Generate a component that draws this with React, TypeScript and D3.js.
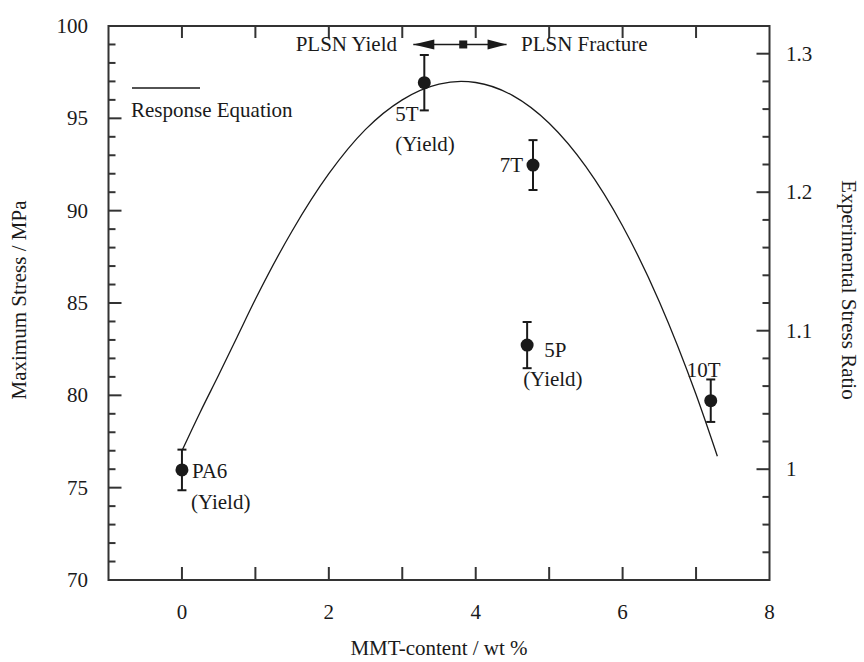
import React from "react";
import * as d3 from "d3";

const sampleNames = ["PA6", "5T", "7T", "5P", "10T"];
const mmtContent = [0, 3.3, 4.78, 4.7, 7.2];
const maxStress = [75.96, 96.93, 92.47, 82.72, 79.71];
const stressError = [1.1, 1.5, 1.35, 1.25, 1.15];

const curveX = [0, 0.25, 0.5, 0.75, 1.0, 1.5, 2.0, 2.5, 3.0, 3.5, 3.8, 4.0, 4.5, 5.0, 5.5, 6.0, 6.5, 7.0, 7.29];
const curveStress = [77.0, 79.1, 81.1, 83.15, 85.2, 88.9, 92.0, 94.4, 96.0, 96.85, 97.0, 96.94, 96.24, 94.73, 92.38, 89.17, 85.07, 80.04, 76.7];

const xTickLabels = [0, 2, 4, 6, 8];
const yTickLabels = [70, 75, 80, 85, 90, 95, 100];
const ratioTickLabels = [1, 1.1, 1.2, 1.3];

const plsnRange = [3.15, 3.83, 4.42];
const plsnLevel = 99.0;

const FONT = "'Liberation Serif', 'Times New Roman', serif";
const INK = "#1a1a1a";
const AX = "#333";

export default function App() {
  const W = 864, H = 662;
  const x = d3.scaleLinear().domain([-1, 8]).range([108.5, 769.5]);
  const y = d3.scaleLinear().domain([70, 100]).range([580, 26]);
  const y2 = d3.scaleLinear().domain([0.92, 1.32]).range([580, 26]);
  const [x0, x1] = x.range();
  const [yb, yt] = y.range();

  const line = d3.line<number>()
    .x((_, i) => x(curveX[i]))
    .y((d) => y(d))
    .curve(d3.curveMonotoneX);

  const xMinor = d3.range(0, 8, 1);
  const yMinor = d3.range(71, 100, 1);
  const rMinor = d3.range(0.94, 1.315, 0.02);

  const fs = 21;

  const labelOffsets: Record<string, { t: string; dx: number; dy: number; anchor: string }[]> = {
    PA6: [{ t: "PA6", dx: 10, dy: 8, anchor: "start" }, { t: "(Yield)", dx: 9, dy: 39, anchor: "start" }],
    "5T": [{ t: "5T", dx: -29, dy: 38, anchor: "start" }, { t: "(Yield)", dx: -29, dy: 68, anchor: "start" }],
    "7T": [{ t: "7T", dx: -10, dy: 7, anchor: "end" }],
    "5P": [{ t: "5P", dx: 17, dy: 12, anchor: "start" }, { t: "(Yield)", dx: -4, dy: 41, anchor: "start" }],
    "10T": [{ t: "10T", dx: -7, dy: -24, anchor: "middle" }],
  };

  const py = y(plsnLevel);
  const [pl, pm, pr] = plsnRange.map((v) => x(v));

  return (
    <svg width={W} height={H} style={{ position: "absolute", left: 0, top: 0, background: "#fff" }}
      fontFamily={FONT} fontSize={fs} fill={INK}>
      <rect x={0} y={0} width={W} height={H} fill="#fff" />
      {/* frame */}
      <rect x={x0} y={yt} width={x1 - x0} height={yb - yt} fill="none" stroke={AX} strokeWidth={2} />
      {/* x ticks bottom & top */}
      {xMinor.map((v) => (
        <g key={"xt" + v}>
          <line x1={x(v)} x2={x(v)} y1={yb} y2={yb - 13} stroke={AX} strokeWidth={2} />
          <line x1={x(v)} x2={x(v)} y1={yt} y2={yt + 12} stroke={AX} strokeWidth={2} />
        </g>
      ))}
      {xTickLabels.map((v) => (
        <text key={"xl" + v} x={x(v)} y={619} textAnchor="middle">{v}</text>
      ))}
      {/* left ticks */}
      {yMinor.map((v) => (
        <line key={"yt" + v} x1={x0} x2={x0 + (v % 5 === 0 ? 13 : 7)} y1={y(v)} y2={y(v)} stroke={AX} strokeWidth={2} />
      ))}
      {yTickLabels.map((v) => (
        <text key={"yl" + v} x={88} y={y(v) + 7} textAnchor="end">{v}</text>
      ))}
      {/* right ticks */}
      {rMinor.map((v) => {
        const major = Math.abs(v * 10 - Math.round(v * 10)) < 1e-6;
        return <line key={"rt" + v.toFixed(2)} x1={x1} x2={x1 - (major ? 13 : 7)} y1={y2(v)} y2={y2(v)} stroke={AX} strokeWidth={2} />;
      })}
      {ratioTickLabels.map((v) => (
        <text key={"rl" + v} x={786} y={y2(v) + 7} textAnchor="start">{v}</text>
      ))}
      {/* axis titles */}
      <text x={(x0 + x1) / 2} y={655} textAnchor="middle">MMT-content / wt %</text>
      <text transform={`translate(26,300) rotate(-90)`} textAnchor="middle">Maximum Stress / MPa</text>
      <text transform={`translate(842,290) rotate(90)`} textAnchor="middle">Experimental Stress Ratio</text>
      {/* response curve */}
      <path d={line(curveStress) || ""} fill="none" stroke={INK} strokeWidth={1.3} />
      {/* legend */}
      <line x1={132} x2={200} y1={88} y2={88} stroke={INK} strokeWidth={1.6} />
      <text x={131} y={117}>Response Equation</text>
      {/* PLSN arrow */}
      <line x1={pl} x2={pr} y1={py} y2={py} stroke={INK} strokeWidth={1.5} />
      <path d={`M${pl},${py} L${pl + 21},${py - 5} L${pl + 21},${py + 5} Z`} fill={INK} />
      <path d={`M${pr},${py} L${pr - 19},${py - 5} L${pr - 19},${py + 5} Z`} fill={INK} />
      <rect x={pm - 4} y={py - 4} width={8} height={8} fill={INK} />
      <text x={397} y={51} textAnchor="end">PLSN Yield</text>
      <text x={521} y={51}>PLSN Fracture</text>
      {/* data points */}
      {sampleNames.map((name, i) => {
        const cx = x(mmtContent[i]);
        const cy = y(maxStress[i]);
        const top = y(maxStress[i] + stressError[i]);
        const bot = y(maxStress[i] - stressError[i]);
        return (
          <g key={name}>
            <line x1={cx} x2={cx} y1={top} y2={bot} stroke={INK} strokeWidth={2} />
            <line x1={cx - 4.5} x2={cx + 4.5} y1={top} y2={top} stroke={INK} strokeWidth={2} />
            <line x1={cx - 4.5} x2={cx + 4.5} y1={bot} y2={bot} stroke={INK} strokeWidth={2} />
            <circle cx={cx} cy={cy} r={6.5} fill={INK} />
            {labelOffsets[name].map((l, j) => (
              <text key={j} x={cx + l.dx} y={cy + l.dy} textAnchor={l.anchor}>{l.t}</text>
            ))}
          </g>
        );
      })}
    </svg>
  );
}
